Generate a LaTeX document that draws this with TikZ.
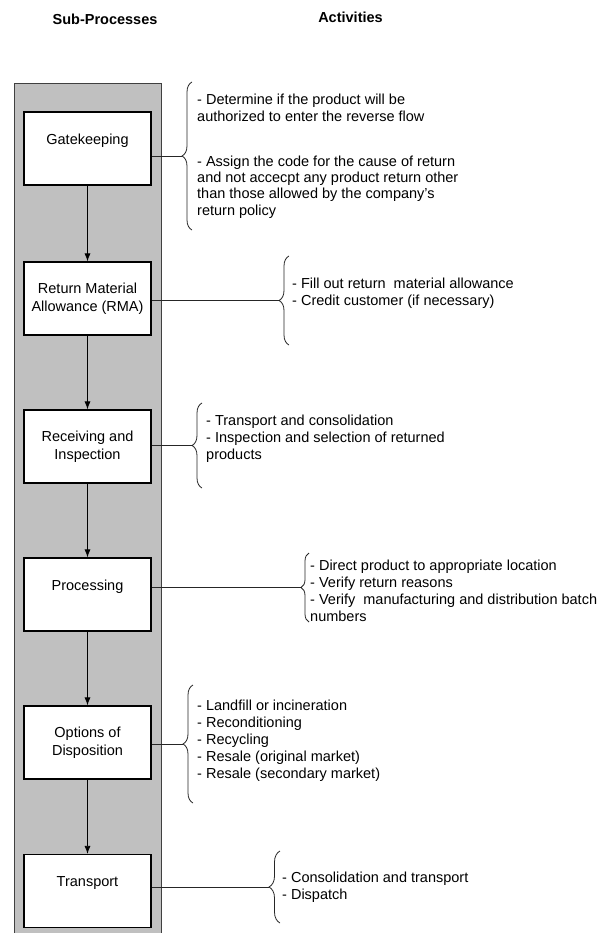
\documentclass[tikz,border=0pt]{standalone}
\usepackage{fontspec}
\setmainfont{Liberation Sans}
\usetikzlibrary{arrows.meta,decorations.pathreplacing}
\definecolor{lanegray}{RGB}{192,192,192}

\begin{document}
\begin{tikzpicture}[x=1pt, y=-1pt,
    subproc/.style={draw, line width=1.2pt, fill=white, minimum width=127pt,
        minimum height=73pt, align=center, font=\fontsize{14.5}{18}\selectfont},
    activity/.style={anchor=base west, align=left, inner sep=0pt,
        font=\fontsize{14.5}{17}\selectfont},
    header/.style={anchor=base, inner sep=0pt, font=\fontsize{14.5}{17}\selectfont\bfseries},
    bracket/.style={decorate, decoration={brace, amplitude=#1}, line width=0.8pt, black!85},
    link/.style={line width=0.8pt, black!85},
    flow/.style={-{Latex[length=8pt, width=6pt]}, line width=0.8pt}]
    \useasboundingbox (0,0) rectangle (611,933);

    % Headings
    \node[header] (hsub) at (105,25) {Sub-Processes};
    \node[header] (hact) at (350.5,23) {Activities};

    % Grey lane
    \draw[fill=lanegray, draw=black!75, line width=0.8pt] (14,83) rectangle (161.5,950);

    % Sub-process boxes (one-line names sit a little high, as in the source)
    \node[subproc] (gk)  at (87.5,148.5) {Gatekeeping\\~};
    \node[subproc] (rma) at (87.5,298.5) {Return Material\\Allowance (RMA)};
    \node[subproc] (ri)  at (87.5,446.5) {Receiving and\\Inspection};
    \node[subproc] (pr)  at (87.5,594.5) {Processing\\~};
    \node[subproc] (od)  at (87.5,742.5) {Options of\\Disposition};
    \node[subproc] (tr)  at (87.5,891)   {Transport\\~};

    % Flow
    \draw[flow] (gk) -- (rma);
    \draw[flow] (rma) -- (ri);
    \draw[flow] (ri) -- (pr);
    \draw[flow] (pr) -- (od);
    \draw[flow] (od) -- (tr);

    % Braces (drawn bottom to top so the tip points left)
    \draw[bracket=10pt] (192,230) -- (192,82);
    \draw[bracket=10pt] (289,345) -- (289,256);
    \draw[bracket=10pt] (202,488) -- (202,403);
    \draw[bracket=8pt]  (309,622) -- (309,553);
    \draw[bracket=10pt] (193,803) -- (193,685);
    \draw[bracket=11pt] (280,923) -- (280,851);

    % Brace tips
    \coordinate (gktip)  at (182,156);
    \coordinate (rmatip) at (279,300.5);
    \coordinate (ritip)  at (192,445.5);
    \coordinate (prtip)  at (301,587.5);
    \coordinate (odtip)  at (183,744);
    \coordinate (trtip)  at (269,887);

    % Links
    \draw[link] (gk.east |- gktip) -- (gktip);
    \draw[link] (rma.east |- rmatip) -- (rmatip);
    \draw[link] (ri.east |- ritip) -- (ritip);
    \draw[link] (pr.east |- prtip) -- (prtip);
    \draw[link] (od.east |- odtip) -- (odtip);
    \draw[link] (tr.east |- trtip) -- (trtip);

    % Activities (base = baseline of the last line)
    \node[activity] (agk1) at (197,122) {- Determine if the product will be\\authorized to enter the reverse flow};
    \node[activity, font=\fontsize{14.5}{16.3}\selectfont] (agk2) at (197,215)
        {- Assign the code for the cause of return\\and not accecpt any product return other\\than those allowed by the company's\\return policy};
    \node[activity] (arma) at (292,305) {- Fill out return~ material allowance\\- Credit customer (if necessary)};
    \node[activity] (ari) at (206,459.5) {- Transport and consolidation\\- Inspection and selection of returned\\products};
    \node[activity] (apr) at (310,621) {- Direct product to appropriate location\\- Verify return reasons\\- Verify~ manufacturing and distribution batch\\numbers};
    \node[activity] (aod) at (197,778) {- Landfill or incineration\\- Reconditioning\\- Recycling\\- Resale (original market)\\- Resale (secondary market)};
    \node[activity] (atr) at (282,899) {- Consolidation and transport\\- Dispatch};
\end{tikzpicture}
\end{document}
